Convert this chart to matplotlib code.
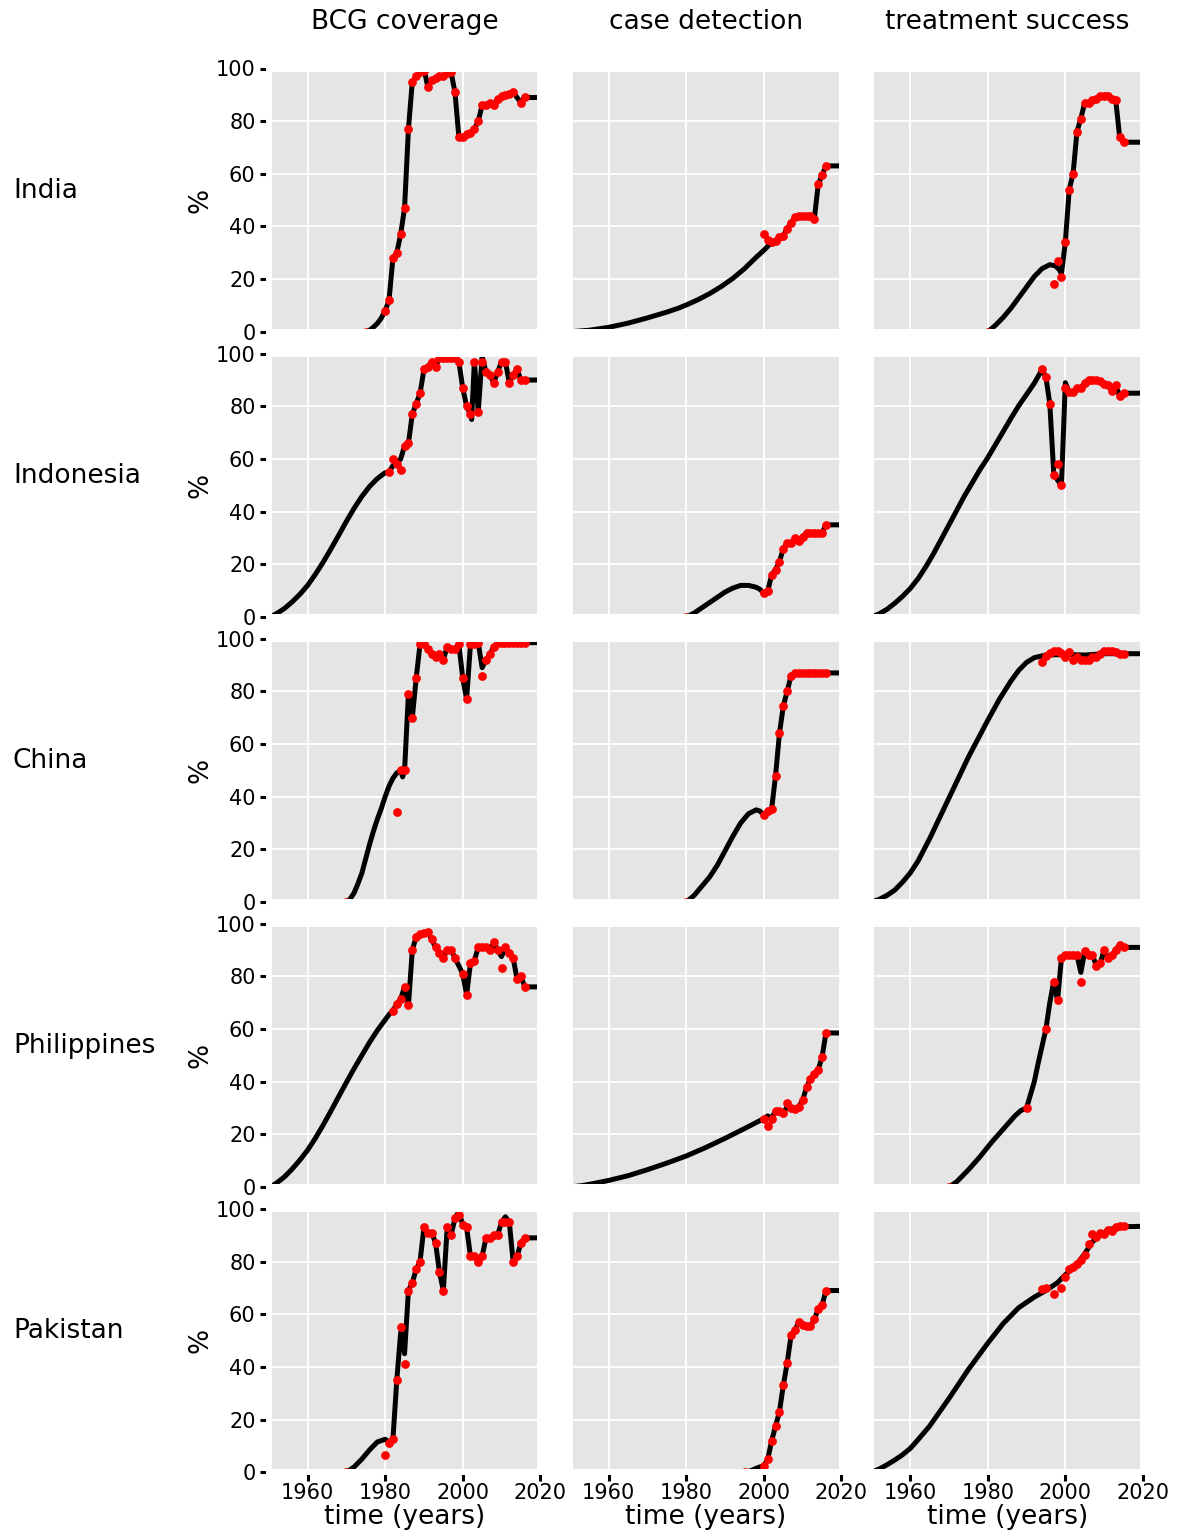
import matplotlib.pyplot as plt

# ---------------- data ----------------
countries = ["India", "Indonesia", "China", "Philippines", "Pakistan"]
columns = ["BCG coverage", "case detection", "treatment success"]
x_ticks = [1960, 1980, 2000, 2020]
y_ticks = [0, 20, 40, 60, 80, 100]

# BCG coverage
bcg_india_yr = [1975, 1980, 1981, 1982, 1983, 1984, 1985, 1986, 1987, 1988, 1989, 1990,
                1991, 1992, 1993, 1994, 1995, 1996, 1997, 1998, 1999, 2000, 2001, 2002,
                2003, 2004, 2005, 2006, 2007, 2008, 2009, 2010, 2011, 2012, 2013, 2015, 2016]
bcg_india_pct = [0, 8, 12, 28, 30, 37, 47, 77, 95, 97, 98.5, 99,
                 93, 95.5, 96.5, 97.3, 97, 98.3, 98.5, 91, 74, 74, 75, 75.5,
                 77, 80, 86, 86, 87, 86, 88.5, 89.5, 90, 90.5, 91, 87, 89]
bcg_india_curve = [(1976, 0.6), (1977, 1.8), (1978, 3.2), (1979, 5.2), (1990, 100), (1996.6, 100)]
bcg_india_off = []

bcg_indonesia_yr = list(range(1981, 2017))
bcg_indonesia_pct = [55, 60, 58, 56, 65, 66, 77, 81, 85, 94, 95, 97, 95, 98.5, 98.5, 98.5,
                     98.5, 98.5, 97, 87, 80, 77, 97, 78, 97, 93, 92, 89, 93, 97, 97, 89,
                     92, 94, 90, 90]
bcg_indonesia_curve = [(1950, 0), (1951, 0.5), (1952, 1.3), (1954, 3.2), (1956, 5.7),
                       (1958, 8.6), (1960, 12), (1962, 16.2), (1964, 20.8), (1966, 25.8),
                       (1968, 31), (1970, 36.3), (1972, 41.3), (1974, 45.8), (1976, 49.6),
                       (1978, 52.6), (1980, 54.8), (1982, 57.5), (1983, 58.5), (1984, 60),
                       (2002.3, 75), (2005, 99)]
bcg_indonesia_off = [1982, 1983, 1984]

bcg_china_yr = [1970, 1983] + list(range(1984, 2017))
bcg_china_pct = [0, 34, 50, 50, 79, 70, 85, 98, 98, 96, 94, 93, 94, 92, 97, 96, 96, 98,
                 85, 77, 98, 98, 98.5, 86, 92, 94, 97, 98.5, 98.5, 98.5, 98.5, 98.5,
                 98.5, 98.5, 98.5]
bcg_china_curve = [(1971, 1.2), (1972, 3.5), (1973, 7), (1974, 11), (1975, 16.5), (1976, 22),
                   (1977, 27), (1978, 31.5), (1979, 35.5), (1980, 40), (1981, 44), (1982, 47),
                   (1983, 49), (1984.5, 47.5), (2005, 89)]
bcg_china_off = [1983, 2005]

bcg_phil_yr = [1982, 1983, 1984, 1985, 1986, 1987, 1988, 1989, 1990, 1991, 1992, 1993, 1994,
               1995, 1996, 1997, 1998, 2000, 2001, 2002, 2003, 2004, 2005, 2006, 2007, 2008,
               2009, 2010, 2011, 2012, 2013, 2014, 2015, 2016]
bcg_phil_pct = [67, 69.5, 71.5, 76, 69, 90, 95, 96, 96.5, 97, 94, 91, 89,
                87, 90, 90, 87, 81, 73, 85, 86, 91, 91, 91, 90, 93,
                90, 83, 91, 89, 87, 79, 80, 76]
bcg_phil_curve = [(1950, 0), (1951, 0.6), (1952, 1.5), (1954, 3.8), (1956, 6.8), (1958, 10.2),
                  (1960, 14), (1962, 18.5), (1964, 23.5), (1966, 28.8), (1968, 34.3),
                  (1970, 39.7), (1972, 45), (1974, 50), (1976, 55), (1978, 59.5),
                  (1980, 63.5), (1981, 65.5), (2010, 87.5)]
bcg_phil_off = [2010]

bcg_pak_yr = [1970] + list(range(1980, 2017))
bcg_pak_pct = [0, 6.5, 11, 12.5, 35, 55, 41, 69, 72, 77, 80, 93, 91, 91, 87, 76, 69, 93,
               90, 96.5, 97.5, 94, 93, 82, 82, 80, 82, 89, 89, 90, 90, 95, 95, 95, 80,
               82, 87, 89]
bcg_pak_curve = [(1972, 2), (1974, 5), (1976, 8.5), (1978, 11.5), (1980, 12.5), (1981, 11.5),
                 (1984, 53), (1985, 45), (1999, 99), (2011, 97)]
bcg_pak_off = [1980, 1984, 1985]

# case detection
cd_india_yr = list(range(2000, 2017))
cd_india_pct = [37, 35, 34, 34.5, 36, 36.5, 39, 41.5, 43.5, 44, 44, 44, 44, 43, 56, 59.5, 63]
cd_india_curve = [(1950, 0), (1955, 0.6), (1960, 1.7), (1965, 3.3), (1970, 5.3), (1975, 7.5),
                  (1978, 9), (1980, 10.2), (1983, 12.2), (1986, 14.5), (1989, 17.2),
                  (1992, 20.3), (1995, 24), (1998, 28.3), (2000, 31), (2001, 32.5)]
cd_india_off = [2000, 2001]

cd_indonesia_yr = [1980] + list(range(2000, 2017))
cd_indonesia_pct = [0, 9, 10, 16, 18, 21, 26, 28, 28, 30, 29, 30.5, 32, 32, 32, 32, 32, 35]
cd_indonesia_curve = [(1982, 1.5), (1984, 3.5), (1986, 5.5), (1988, 7.5), (1990, 9.5),
                      (1992, 11), (1994, 12), (1996, 12), (1998, 11.3), (1999, 10.5)]
cd_indonesia_off = []

cd_china_yr = [1980] + list(range(2000, 2017))
cd_china_pct = [0, 33, 34.5, 35.5, 48, 64, 74.5, 80, 86, 87, 87, 87, 87, 87, 87, 87, 87, 87]
cd_china_curve = [(1982, 2.5), (1984, 6), (1986, 9.5), (1988, 14), (1990, 19.5), (1992, 25),
                  (1994, 30), (1996, 33.5), (1998, 35), (1999, 34.5)]
cd_china_off = []

cd_phil_yr = list(range(2000, 2017))
cd_phil_pct = [26, 23, 26, 29, 29, 28, 32, 30, 29.5, 30.5, 33, 38, 41, 43, 44.5, 49.5, 58.5]
cd_phil_curve = [(1950, 0), (1953, 0.5), (1956, 1.3), (1960, 2.5), (1965, 4.3), (1970, 6.6),
                 (1975, 9.1), (1980, 11.8), (1985, 15), (1990, 18.5), (1995, 22.2),
                 (2001, 27), (2006, 30.5)]
cd_phil_off = [2001, 2006]

cd_pak_yr = [1995] + list(range(2000, 2017))
cd_pak_pct = [0, 2.5, 5, 12, 17.5, 23, 33, 41.5, 52, 54, 57, 56, 55.5, 55.5, 58, 62, 63.5, 69]
cd_pak_curve = [(1996, 0.3), (1997, 0.8), (1998, 1.5), (1999, 2)]
cd_pak_off = []

# treatment success
ts_india_yr = [1980] + list(range(1997, 2016))
ts_india_pct = [0, 18, 27, 21, 34, 54, 60, 76, 81, 87, 87, 88, 88.5, 89.5, 89.5, 89.5,
                88.5, 88, 74, 72]
ts_india_curve = [(1982, 2.5), (1984, 5.5), (1986, 9), (1988, 13), (1990, 17), (1992, 21),
                  (1994, 24), (1996, 25.5), (1997.5, 25), (1998.5, 23.5), (1999, 22),
                  (2010.5, 90)]
ts_india_off = [1997, 1998, 1999]

ts_indonesia_yr = list(range(1994, 2016))
ts_indonesia_pct = [94, 91, 81, 54, 58, 50, 87, 85.5, 85.5, 87, 87, 89, 90, 90, 90, 89.5,
                    88.5, 88, 86, 88, 84, 85]
ts_indonesia_curve = [(1950, 0), (1952, 1.2), (1954, 2.9), (1956, 5.2), (1958, 7.8),
                      (1960, 10.8), (1962, 14.5), (1964, 19), (1966, 24), (1968, 29.5),
                      (1970, 35), (1972, 40.5), (1974, 46), (1976, 51), (1978, 56),
                      (1980, 60.5), (1982, 65.5), (1984, 70.5), (1986, 75.5), (1988, 80.3),
                      (1990, 84.5), (1992, 88.8), (1997, 55), (1998, 52), (2000, 89)]
ts_indonesia_off = [1997, 1998]

ts_china_yr = list(range(1994, 2016))
ts_china_pct = [91, 93.5, 94.5, 95.5, 95.5, 94.5, 93, 95, 92, 93, 92, 92, 92, 93, 93, 94,
                95.5, 95.5, 95.5, 95, 94, 94]
ts_china_curve = [(1950, 0), (1952, 1), (1954, 2.5), (1956, 4.5), (1958, 7.5), (1960, 11),
                  (1962, 15.5), (1965, 24), (1970, 39.5), (1975, 55), (1980, 69), (1983, 77),
                  (1986, 84), (1988, 88), (1990, 91), (1992, 92.8), (1995, 93.8),
                  (2000, 94), (2005, 93.8), (2010, 94.3), (2020, 94.3)]
ts_china_off = ts_china_yr

ts_phil_yr = [1970, 1990, 1995] + list(range(1997, 2016))
ts_phil_pct = [0, 30, 60, 78, 71, 87, 88, 88, 88, 88, 78, 89.5, 88, 88, 84, 85, 90, 87,
               88, 90, 92, 91]
ts_phil_curve = [(1972, 2), (1975, 6.5), (1978, 11.5), (1981, 17), (1984, 22), (1987, 27),
                 (1988.5, 29), (1991, 35), (1992, 40), (1993, 47), (1994, 53.5), (1996, 70),
                 (2004, 81.5)]
ts_phil_off = [2004]

ts_pak_yr = [1994, 1995, 1997] + list(range(1999, 2016))
ts_pak_pct = [69.5, 70, 67.5, 70, 74, 77, 78, 79, 80.5, 82.5, 86.5, 90.5, 89.5, 91, 90.5,
              92, 91.5, 93, 93.5, 93.5]
ts_pak_curve = [(1950, 0), (1952, 1.2), (1954, 2.8), (1956, 4.6), (1958, 6.6), (1960, 9),
                (1962, 12.3), (1965, 17.5), (1970, 28), (1975, 39), (1980, 49), (1984, 56.5),
                (1988, 62.5), (1992, 66.5), (1995, 69), (1998, 72), (2000, 75), (2003, 79),
                (2005, 83), (2007, 87.5), (2009, 90), (2011, 92), (2014, 93.2), (2020, 93.4)]
ts_pak_off = ts_pak_yr

panels = [
    [(bcg_india_yr, bcg_india_pct, bcg_india_curve, bcg_india_off),
     (cd_india_yr, cd_india_pct, cd_india_curve, cd_india_off),
     (ts_india_yr, ts_india_pct, ts_india_curve, ts_india_off)],
    [(bcg_indonesia_yr, bcg_indonesia_pct, bcg_indonesia_curve, bcg_indonesia_off),
     (cd_indonesia_yr, cd_indonesia_pct, cd_indonesia_curve, cd_indonesia_off),
     (ts_indonesia_yr, ts_indonesia_pct, ts_indonesia_curve, ts_indonesia_off)],
    [(bcg_china_yr, bcg_china_pct, bcg_china_curve, bcg_china_off),
     (cd_china_yr, cd_china_pct, cd_china_curve, cd_china_off),
     (ts_china_yr, ts_china_pct, ts_china_curve, ts_china_off)],
    [(bcg_phil_yr, bcg_phil_pct, bcg_phil_curve, bcg_phil_off),
     (cd_phil_yr, cd_phil_pct, cd_phil_curve, cd_phil_off),
     (ts_phil_yr, ts_phil_pct, ts_phil_curve, ts_phil_off)],
    [(bcg_pak_yr, bcg_pak_pct, bcg_pak_curve, bcg_pak_off),
     (cd_pak_yr, cd_pak_pct, cd_pak_curve, cd_pak_off),
     (ts_pak_yr, ts_pak_pct, ts_pak_curve, ts_pak_off)],
]

# ---------------- figure ----------------
W, H = 1177, 1533
fig = plt.figure(figsize=(W / 100, H / 100), dpi=100)

col_left = [268.8, 570.0, 871.4]
col_w = 271.5
row_bottom = [331.8, 617.0, 902.0, 1187.0, 1472.2]
row_h = 263.3


def line_points(yr, pct, curve, off):
    pts = dict((y, v) for y, v in zip(yr, pct) if y not in off)
    for y, v in curve:
        pts[y] = v
    xs = sorted(pts)
    ys = [pts[x] for x in xs]
    if xs[-1] < 2020:
        xs.append(2020)
        ys.append(ys[-1])
    return xs, ys


for r in range(5):
    for c in range(3):
        ax = fig.add_axes([col_left[c] / W, 1 - row_bottom[r] / H, col_w / W, row_h / H])
        ax.set_facecolor("#e5e5e5")
        ax.set_axisbelow(True)
        ax.grid(True, color="white", lw=1.3)
        for s in ax.spines.values():
            s.set_color("white")
            s.set_linewidth(4.3)
        yr, pct, curve, off = panels[r][c]
        lx, ly = line_points(yr, pct, curve, off)
        ax.plot(lx, ly, color="black", lw=3.6, zorder=2, solid_joinstyle="round")
        ax.plot(yr, pct, "o", color="red", ms=6.3, mew=0, zorder=2.2)
        ax.set_xlim(1950, 2020)
        ax.set_ylim(0, 100)
        ax.set_xticks(x_ticks)
        ax.set_yticks(y_ticks)
        ax.tick_params(direction="out", length=6.5, width=2.2, color="black",
                       labelsize=15, pad=3)
        ax.tick_params(axis="x", pad=1.5)
        if c == 0:
            ax.set_ylabel("%", fontsize=19, labelpad=2)
        else:
            ax.tick_params(left=False, labelleft=False)
        if r < 4:
            ax.tick_params(bottom=False, labelbottom=False)

for r, name in enumerate(countries):
    yc = row_bottom[r] - row_h / 2 - 9.5
    fig.text(13 / W, 1 - yc / H, name, fontsize=19, ha="left", va="center")

for c, title in enumerate(columns):
    xc = (col_left[c] + col_w / 2) / W
    fig.text(xc, 1 - 22 / H, title, fontsize=19, ha="center", va="center")
    fig.text(xc, 1 - 1517 / H, "time (years)", fontsize=19, ha="center", va="center")

fig.savefig("out.png", dpi=100)
